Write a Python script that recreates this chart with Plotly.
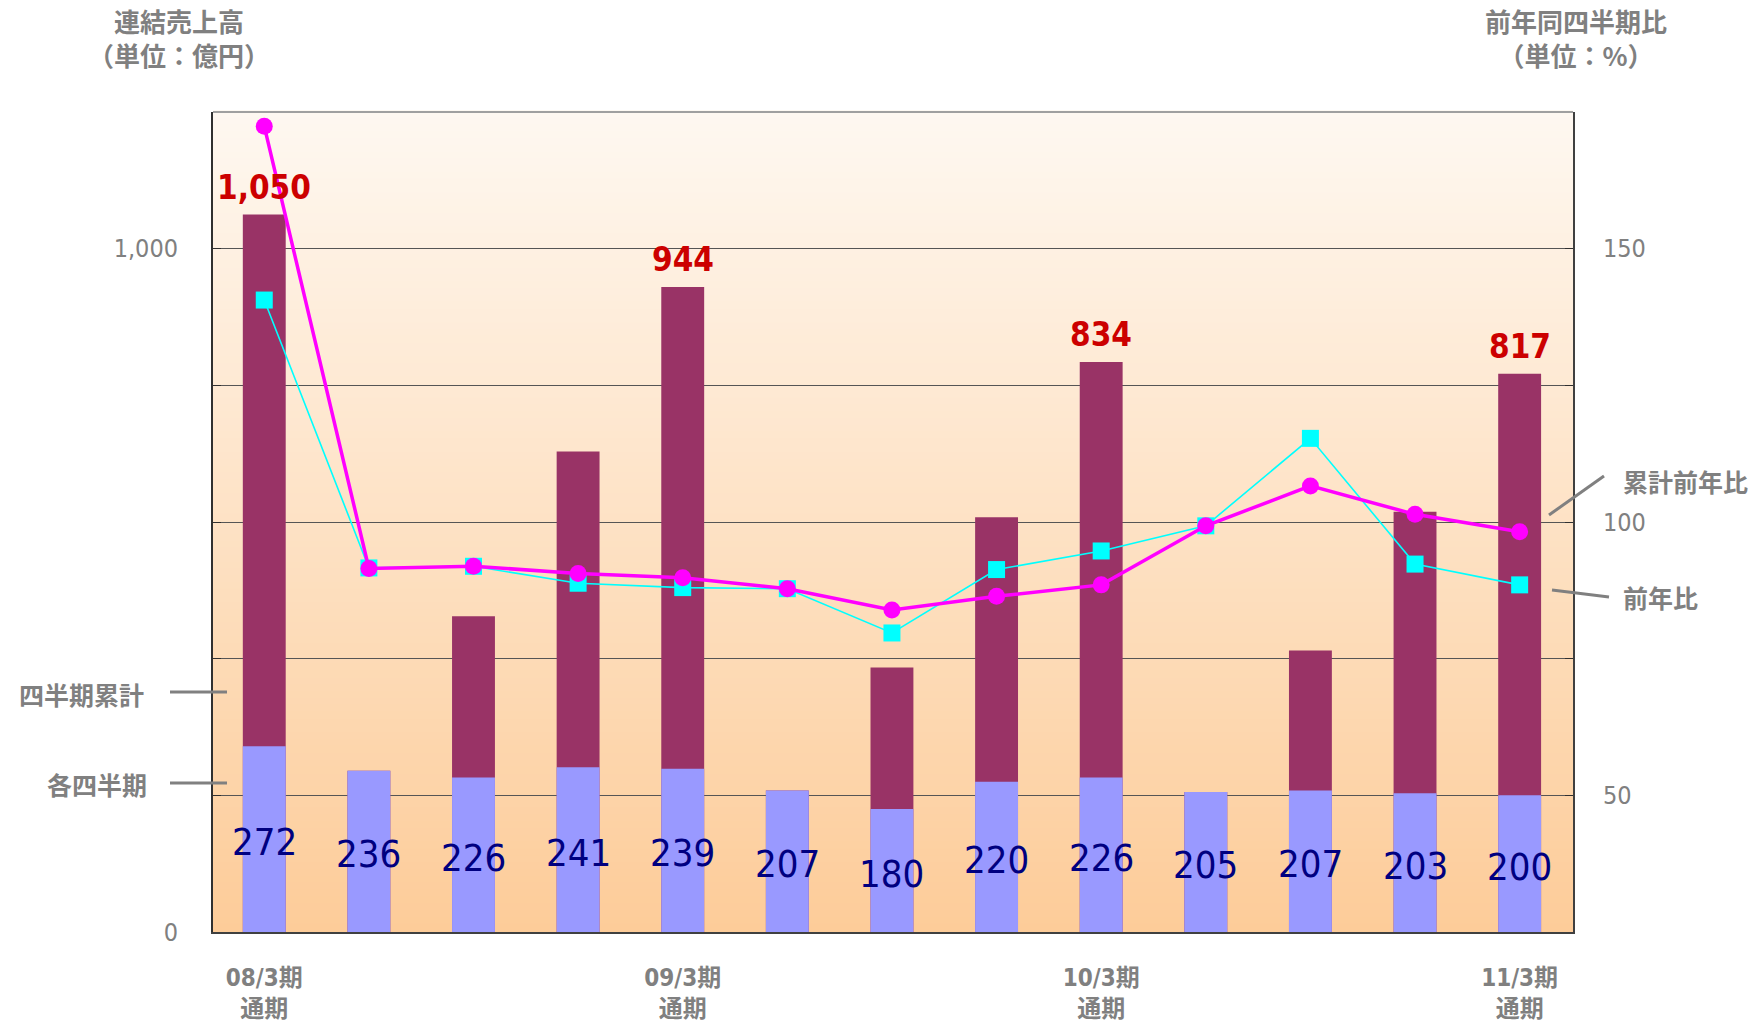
import plotly.graph_objects as go

# ---- data ----
quarters = list(range(1, 14))
quarterly = [272, 236, 226, 241, 239, 207, 180, 220, 226, 205, 207, 203, 200]
cumulative = [1050, 236, 462, 703, 944, 207, 387, 607, 834, 205, 412, 615, 817]
cum_yoy = [172.4, 91.5, 91.9, 90.6, 89.8, 87.8, 83.9, 86.4, 88.5, 99.3, 106.6, 101.4, 98.2]
q_yoy = [140.6, 91.6, 91.9, 88.8, 88.0, 87.8, 79.7, 91.3, 94.7, 99.3, 115.3, 92.3, 88.5]
cum_label_idx = [0, 4, 8, 12]
cum_label_text = ["1,050", "944", "834", "817"]
x_tick_vals = [1, 5, 9, 13]
x_tick_text = ["08/3期<br>通期", "09/3期<br>通期", "10/3期<br>通期", "11/3期<br>通期"]
left_tick_vals = [0, 200, 400, 600, 800, 1000]
left_tick_text = ["0", "", "", "", "", "1,000"]
right_tick_vals = [25, 50, 75, 100, 125, 150, 175]
right_tick_text = ["", "50", "", "100", "", "150", ""]

NARROW = "Liberation Sans Narrow, DejaVu Sans Condensed, Arial Narrow, Noto Sans CJK JP, sans-serif"
CJK = "Noto Sans CJK JP, sans-serif"
GRAY = "#808080"

# figure geometry (body margin removed via post_script)
FW, FH = 1756, 1024
L, T = 213, 112
R = FW - 1573
B = FH - 932
PW, PH = FW - L - R, FH - T - B


def px(sx):
    return (sx - L) / PW


def py(sy):
    return (FH - sy - B) / PH


fig = go.Figure()

fig.add_trace(go.Bar(x=quarters, y=cumulative, width=0.41, marker_color="#993366",
                     marker_line_width=0, name="四半期累計"))
fig.add_trace(go.Bar(x=quarters, y=quarterly, width=0.41, marker_color="#9999ff",
                     marker_line_width=0, name="各四半期"))

fig.add_trace(go.Scatter(x=quarters, y=q_yoy, yaxis="y2", mode="lines+markers",
                         line=dict(color="#00ffff", width=1.6),
                         marker=dict(symbol="square", size=17, color="#00ffff"),
                         name="前年比"))
fig.add_trace(go.Scatter(x=quarters, y=cum_yoy, yaxis="y2", mode="lines+markers",
                         line=dict(color="#ff00ff", width=3.5),
                         marker=dict(symbol="circle", size=17, color="#ff00ff"),
                         name="累計前年比"))

annotations = []
# quarterly labels centred at half bar height
for xq, v in zip(quarters, quarterly):
    annotations.append(dict(x=xq, y=v / 2, xref="x", yref="y", text=str(v), showarrow=False,
                            xanchor="center", yanchor="middle", yshift=-3,
                            font=dict(family=NARROW, size=38, color="#000080")))
# cumulative labels above bars
for i, txt in zip(cum_label_idx, cum_label_text):
    annotations.append(dict(x=quarters[i], y=cumulative[i], xref="x", yref="y", text=txt,
                            showarrow=False, xanchor="center", yanchor="bottom", yshift=6,
                            font=dict(family=NARROW, size=33, color="#cc0000", weight="bold")))

# gradient background strips
shapes = []
N = 120
top = (254, 248, 241)
bot = (253, 204, 153)
for i in range(N):
    t = (i + 0.5) / N
    c = tuple(round(top[k] + (bot[k] - top[k]) * t) for k in range(3))
    shapes.append(dict(type="rect", xref="paper", yref="paper",
                       x0=0, x1=1, y0=1 - (i + 1) / N, y1=1 - i / N + 0.002,
                       fillcolor="rgb(%d,%d,%d)" % c, line_width=0, layer="below"))
# top border
shapes.append(dict(type="line", xref="paper", yref="paper", x0=0, x1=1, y0=1, y1=1,
                   line=dict(color="#a0a0a0", width=2)))
# leader lines (screen coords)
lead = dict(color="#808080", width=3)
for (x0, y0, x1, y1) in [(170, 692, 227, 692), (170, 783, 227, 783),
                         (1549, 515, 1604, 476), (1552, 590, 1609, 597)]:
    shapes.append(dict(type="line", xref="paper", yref="paper",
                       x0=px(x0), x1=px(x1), y0=py(y0), y1=py(y1), line=lead))

title_font = dict(family=CJK, size=26, color=GRAY, weight="bold")
for txt, sx, sy in [("連結売上高<br>（単位：億円）", 179, 38),
                    ("前年同四半期比<br>（単位：%）", 1576, 38)]:
    annotations.append(dict(text=txt, x=px(sx), y=py(sy), xref="paper", yref="paper",
                            showarrow=False, xanchor="center", yanchor="middle",
                            align="center", font=title_font))

side_font = dict(family=CJK, size=25, color=GRAY, weight="bold")
for txt, sx, sy, anc in [("四半期累計", 17, 694, "left"), ("各四半期", 149, 784, "right"),
                         ("累計前年比", 1621, 481, "left"), ("前年比", 1621, 597, "left")]:
    annotations.append(dict(text=txt, x=px(sx), y=py(sy), xref="paper", yref="paper",
                            showarrow=False, xanchor=anc, yanchor="middle", font=side_font))

fig.update_layout(
    width=FW, height=FH,
    margin=dict(l=L, r=R, t=T, b=B, autoexpand=False),
    paper_bgcolor="white", plot_bgcolor="rgba(0,0,0,0)",
    barmode="overlay", showlegend=False,
    shapes=shapes, annotations=annotations,
    xaxis=dict(range=[0.51, 13.51], tickvals=x_tick_vals, ticktext=x_tick_text,
               automargin=False,
               showgrid=False, zeroline=False, showline=True, linecolor="#404040", linewidth=2,
               ticks="", ticklabelstandoff=23,
               tickfont=dict(family=NARROW, size=24, color=GRAY, weight="bold")),
    yaxis=dict(range=[0, 1200], tickvals=left_tick_vals, ticktext=left_tick_text,
               automargin=False,
               showgrid=True, gridcolor="#555555", gridwidth=1, zeroline=False,
               showline=True, linecolor="#303030", linewidth=2,
               ticks="inside", ticklen=8, tickcolor="#303030", ticklabelstandoff=28,
               tickfont=dict(family=NARROW, size=25, color=GRAY)),
    yaxis2=dict(range=[25, 175], overlaying="y", side="right", tickvals=right_tick_vals,
                ticktext=right_tick_text, showgrid=False, zeroline=False, automargin=False,
                showline=True, linecolor="#404040", linewidth=2,
                ticks="inside", ticklen=8, tickcolor="#303030", ticklabelstandoff=23,
                tickfont=dict(family=NARROW, size=25, color=GRAY)),
)

fig.write_html("out.html",
               config={"displayModeBar": False},
               post_script="document.body.style.margin='0';document.body.style.overflow='hidden';")
